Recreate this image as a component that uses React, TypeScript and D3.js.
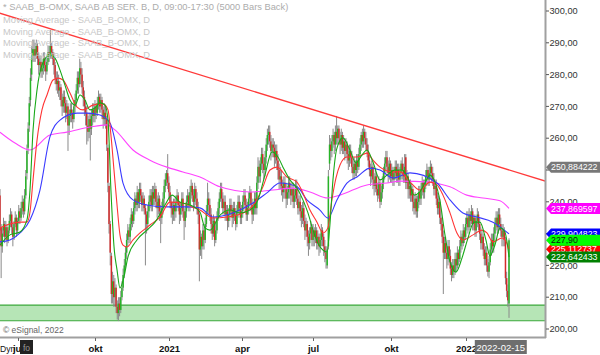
import * as d3 from "d3";
import { useRef, useEffect } from "react";

const firstDay = "2020-06-08";
const holidays = ["2020-06-19", "2020-12-24", "2020-12-25", "2020-12-31", "2021-01-01", "2021-01-06", "2021-04-02", "2021-04-05", "2021-05-13", "2021-06-25", "2021-12-24", "2021-12-31", "2022-01-06"];
const monthNames = ["jan", "feb", "mar", "apr", "maj", "jun", "jul", "aug", "sep", "okt", "nov", "dec"];
const cursorDate = "2022-02-15";

const opens = [
  252, 242, 232, 226, 231, 233, 229, 232, 228, 231, 234, 236, 232, 229, 233, 235, 231, 234, 237, 235,
  238, 240, 237, 242, 249, 257, 264, 272, 280, 286, 286, 288, 286, 289, 285, 283, 284, 281, 282, 285,
  283, 281, 284, 287, 286, 289, 287, 285, 283, 279, 277, 278, 275, 276, 272, 270, 273, 271, 268, 270,
  264, 267, 269, 268, 266, 270, 272, 275, 279, 277, 282, 280, 276, 273, 270, 268, 264, 262, 266, 263,
  267, 269, 267, 270, 268, 271, 273, 270, 272, 269, 266, 268, 266, 257, 245, 233, 223, 211, 215, 210,
  213, 207, 205, 208, 206, 210, 213, 217, 220, 224, 228, 231, 229, 233, 236, 234, 238, 241, 239, 243,
  240, 244, 242, 239, 241, 238, 236, 233, 237, 240, 242, 239, 243, 241, 244, 240, 238, 241, 237, 235,
  238, 241, 245, 247, 249, 246, 243, 240, 238, 236, 239, 237, 240, 242, 239, 236, 238, 241, 237, 234,
  237, 240, 242, 239, 243, 245, 242, 240, 244, 241, 238, 236, 225, 229, 226, 231, 228, 233, 237, 241,
  239, 236, 233, 230, 234, 228, 231, 235, 238, 241, 244, 241, 238, 240, 236, 237, 234, 236, 239, 237,
  235, 238, 236, 233, 237, 240, 238, 235, 237, 240, 242, 239, 236, 238, 241, 243, 239, 236, 238, 241,
  238, 246, 251, 248, 252, 255, 252, 250, 254, 258, 261, 262, 259, 256, 258, 257, 254, 256, 253, 250,
  247, 248, 245, 243, 246, 244, 241, 243, 246, 244, 242, 244, 240, 242, 245, 241, 238, 240, 237, 235,
  238, 234, 231, 233, 229, 227, 230, 232, 228, 231, 229, 231, 227, 229, 226, 228, 231, 229, 226, 224,
  220, 226, 252, 258, 256, 259, 261, 258, 262, 260, 263, 260, 258, 261, 257, 259, 256, 258, 255, 253,
  256, 254, 251, 249, 252, 250, 253, 251, 255, 258, 261, 259, 262, 260, 258, 256, 253, 250, 248, 251,
  247, 245, 248, 244, 242, 246, 240, 243, 246, 249, 252, 254, 251, 249, 252, 248, 250, 247, 249, 251,
  248, 250, 247, 249, 252, 250, 248, 254, 246, 248, 244, 245, 242, 244, 240, 238, 241, 237, 240, 243,
  241, 244, 246, 243, 245, 248, 250, 247, 249, 251, 249, 247, 244, 245, 241, 238, 240, 235, 233, 229,
  224, 227, 224, 222, 226, 223, 219, 217, 220, 218, 222, 220, 224, 222, 226, 229, 227, 231, 229, 233,
  235, 232, 236, 234, 237, 233, 235, 231, 234, 236, 233, 230, 227, 229, 225, 222, 224, 220, 218, 221,
  225, 228, 226, 230, 233, 235, 232, 236, 233, 231, 229, 231, 228, 216, 212, 208,
];
const highs = [
  256, 244, 233, 232, 235, 234, 234, 233, 232, 236, 238, 237, 233, 234, 237, 236, 235, 239, 238, 240,
  242, 241, 244, 250, 258, 265, 273, 282, 289, 291, 291, 290, 291, 290, 287, 286, 286, 284, 287, 287,
  285, 286, 289, 289, 294, 290, 288, 287, 284, 281, 281, 280, 278, 277, 274, 275, 275, 273, 272, 271,
  269, 271, 271, 269, 272, 274, 277, 281, 281, 285, 284, 282, 278, 275, 272, 270, 267, 268, 268, 269,
  271, 271, 272, 271, 273, 275, 274, 274, 273, 270, 271, 270, 267, 258, 246, 234, 224, 218, 217, 216,
  214, 209, 210, 210, 212, 215, 219, 222, 226, 230, 233, 232, 235, 238, 237, 240, 243, 242, 245, 244,
  246, 246, 243, 243, 242, 239, 237, 239, 242, 244, 244, 245, 245, 246, 245, 242, 243, 242, 239, 240,
  243, 247, 249, 250, 255, 248, 245, 242, 240, 241, 241, 242, 244, 243, 240, 240, 243, 243, 238, 239,
  242, 244, 243, 245, 247, 246, 244, 246, 245, 243, 240, 237, 231, 230, 233, 232, 235, 239, 246, 243,
  241, 238, 235, 236, 235, 233, 237, 240, 243, 246, 246, 243, 242, 242, 239, 239, 238, 241, 241, 239,
  240, 240, 238, 239, 242, 242, 240, 239, 242, 244, 244, 241, 240, 243, 245, 244, 241, 240, 243, 243,
  248, 254, 253, 254, 257, 257, 254, 256, 260, 263, 264, 264, 261, 260, 260, 259, 258, 258, 255, 252,
  251, 250, 247, 248, 248, 246, 245, 248, 248, 246, 246, 246, 244, 247, 247, 243, 242, 242, 239, 240,
  240, 236, 235, 234, 231, 232, 234, 233, 233, 232, 233, 232, 231, 230, 230, 233, 232, 230, 228, 226,
  226, 250, 261, 260, 261, 263, 262, 264, 267, 264, 264, 262, 263, 262, 261, 260, 260, 259, 257, 258,
  258, 256, 253, 254, 253, 255, 255, 257, 260, 262, 263, 264, 263, 262, 260, 258, 255, 252, 253, 252,
  249, 250, 249, 246, 248, 247, 245, 248, 251, 254, 256, 256, 253, 254, 253, 252, 251, 251, 253, 253,
  252, 252, 251, 253, 254, 252, 255, 255, 250, 249, 247, 247, 246, 245, 242, 243, 242, 242, 245, 245,
  246, 248, 247, 247, 250, 252, 251, 251, 253, 252, 251, 249, 247, 247, 243, 242, 241, 237, 235, 231,
  229, 229, 226, 228, 228, 225, 221, 222, 222, 224, 224, 226, 225, 228, 231, 230, 233, 232, 235, 237,
  237, 238, 237, 239, 238, 236, 236, 235, 238, 237, 235, 232, 231, 230, 227, 226, 226, 222, 223, 227,
  230, 230, 232, 235, 237, 237, 238, 238, 235, 233, 233, 232, 229, 218, 214, 228.5,
];
const lows = [
  240, 229, 216, 224, 229, 227, 228, 226, 227, 230, 232, 230, 226, 228, 232, 229, 230, 233, 233, 234,
  236, 235, 236, 241, 247, 255, 262, 270, 278, 284, 284, 284, 285, 283, 280, 281, 279, 279, 280, 281,
  278, 280, 283, 284, 285, 285, 283, 280, 277, 275, 274, 273, 272, 270, 267, 268, 268, 265, 266, 256,
  261, 265, 265, 263, 265, 268, 270, 274, 274, 276, 277, 274, 270, 267, 264, 258, 259, 260, 253, 261,
  264, 265, 265, 266, 267, 269, 268, 268, 266, 263, 264, 263, 256, 243, 230, 220, 208, 208, 207, 207,
  205, 203, 202.5, 204, 205, 209, 212, 216, 219, 222, 226, 227, 227, 231, 232, 233, 236, 237, 237, 238,
  238, 240, 237, 237, 236, 220, 230, 231, 235, 238, 237, 237, 239, 239, 238, 235, 236, 234, 227, 233,
  236, 239, 243, 245, 244, 241, 238, 235, 233, 234, 234, 235, 238, 237, 233, 234, 236, 235, 228, 232,
  235, 238, 237, 237, 241, 240, 237, 238, 239, 236, 233, 215, 223, 222, 225, 225, 227, 232, 236, 236,
  234, 230, 228, 229, 226, 227, 230, 234, 236, 240, 238, 236, 236, 234, 234, 231, 232, 234, 235, 232,
  233, 234, 231, 232, 235, 236, 233, 233, 235, 238, 237, 234, 234, 236, 239, 237, 233, 234, 236, 236,
  236, 244, 246, 246, 250, 249, 247, 248, 252, 256, 258, 257, 253, 254, 254, 251, 252, 250, 247, 244,
  244, 242, 240, 241, 241, 238, 239, 241, 241, 239, 240, 238, 238, 240, 239, 236, 236, 234, 232, 233,
  232, 228, 229, 226, 223, 225, 228, 226, 226, 226, 227, 225, 225, 223, 224, 226, 226, 223, 221, 219,
  219, 225, 250, 253, 254, 257, 255, 256, 258, 258, 258, 255, 256, 255, 255, 253, 254, 252, 250, 251,
  252, 249, 247, 247, 248, 248, 249, 250, 254, 256, 257, 257, 258, 256, 254, 251, 248, 245, 246, 244,
  242, 243, 242, 240, 241, 238, 239, 241, 244, 247, 250, 249, 246, 247, 246, 246, 245, 245, 247, 246,
  246, 245, 245, 247, 247, 246, 246, 244, 244, 241, 241, 240, 240, 237, 236, 236, 235, 235, 238, 239,
  239, 242, 241, 241, 244, 246, 245, 245, 247, 246, 245, 242, 242, 239, 236, 236, 233, 231, 227, 211,
  222, 222, 219, 220, 221, 217, 215, 216, 216, 217, 218, 219, 220, 221, 224, 225, 226, 227, 228, 231,
  230, 231, 232, 233, 231, 231, 229, 229, 232, 231, 228, 225, 225, 223, 220, 220, 218, 216.5, 216, 220,
  223, 224, 224, 228, 231, 230, 230, 231, 229, 226, 226, 226, 214, 210, 207, 203.5,
];
const closes = [
  243, 231, 226, 230, 233, 229, 232, 228, 231, 234, 236, 232, 229, 233, 235, 231, 234, 237, 235, 238,
  240, 237, 242, 248, 256, 263, 271, 279, 286, 288, 288, 286, 289, 285, 283, 284, 281, 282, 285, 283,
  281, 284, 287, 286, 289, 287, 285, 283, 279, 277, 278, 275, 276, 272, 270, 273, 271, 268, 270, 264,
  267, 269, 268, 266, 270, 272, 275, 279, 277, 282, 280, 276, 273, 270, 268, 264, 262, 266, 263, 267,
  269, 267, 270, 268, 271, 273, 270, 272, 269, 266, 268, 266, 258, 246, 233, 224, 211, 215, 210, 213,
  207, 205, 208, 206, 210, 213, 217, 220, 224, 228, 231, 229, 233, 236, 234, 238, 241, 239, 243, 240,
  244, 242, 239, 241, 238, 236, 233, 237, 240, 242, 239, 243, 241, 244, 240, 238, 241, 237, 235, 238,
  241, 245, 247, 249, 246, 243, 240, 238, 236, 239, 237, 240, 242, 239, 236, 238, 241, 237, 234, 237,
  240, 242, 239, 243, 245, 242, 240, 244, 241, 238, 236, 225, 229, 226, 231, 228, 233, 237, 241, 239,
  236, 233, 230, 234, 228, 231, 235, 238, 241, 244, 241, 238, 240, 236, 237, 234, 236, 239, 237, 235,
  238, 236, 233, 237, 240, 238, 235, 237, 240, 242, 239, 236, 238, 241, 243, 239, 236, 238, 241, 238,
  246, 251, 248, 252, 255, 252, 250, 254, 258, 261, 262, 259, 256, 258, 257, 254, 256, 253, 250, 247,
  248, 245, 243, 246, 244, 241, 243, 246, 244, 242, 244, 240, 242, 245, 241, 238, 240, 237, 235, 238,
  234, 231, 233, 229, 227, 230, 232, 228, 231, 229, 231, 227, 229, 226, 228, 231, 229, 226, 224, 222,
  225, 248, 258, 256, 259, 261, 258, 262, 260, 263, 260, 258, 261, 257, 259, 256, 258, 255, 253, 256,
  254, 251, 249, 252, 250, 253, 251, 255, 258, 261, 259, 262, 260, 258, 256, 253, 250, 248, 251, 247,
  245, 248, 244, 242, 246, 240, 243, 246, 249, 252, 254, 251, 249, 252, 248, 250, 247, 249, 251, 248,
  250, 247, 249, 252, 250, 248, 251, 246, 248, 244, 245, 242, 244, 240, 238, 241, 237, 240, 243, 241,
  244, 246, 243, 245, 248, 250, 247, 249, 251, 249, 247, 244, 245, 241, 238, 240, 235, 233, 229, 224,
  227, 224, 222, 226, 223, 219, 217, 220, 218, 222, 220, 224, 222, 226, 229, 227, 231, 229, 233, 235,
  232, 236, 234, 237, 233, 235, 231, 234, 236, 233, 230, 227, 229, 225, 222, 224, 220, 218, 221, 225,
  228, 226, 230, 233, 235, 232, 236, 233, 231, 229, 231, 228, 216, 212, 209, 227.9,
];

// moving averages as [bar, price]
const maFast = [[1, 226.4], [9.5, 229.6], [18, 230.5], [24, 234.3], [26.6, 243.7], [29.2, 262.6], [32.6, 275.2], [36.8, 283], [43.6, 286.2], [47.9, 285.2], [52.2, 281.4], [56.4, 276.7], [60.7, 272], [65, 270.4], [69.2, 273.6], [73.5, 272], [77.7, 268.9], [82, 269.5], [86.3, 271.1], [90.5, 270.4], [93.1, 265.7], [95.6, 243.7], [98.2, 226], [100.8, 218.6], [103.3, 212.9], [106.7, 216.4], [110.1, 222.6], [117.8, 228], [126.3, 231.1], [133.2, 233.6], [141.7, 239], [147.7, 242.1], [154.5, 239.9], [163, 239], [171.5, 236.8], [175.8, 231.8], [180, 231.1], [188.6, 235.8], [197.1, 237.4], [205.6, 236.5], [214.1, 237.4], [221, 240.6], [226.9, 248.4], [232.9, 255.7], [238, 254.1], [242.3, 250.9], [248.2, 246.9], [254.2, 244.3], [259.3, 240.6], [263.6, 236.5], [267.9, 231.1], [272.1, 227], [276.4, 224.8], [279.8, 224.2], [282.3, 232.7], [284.9, 246.9], [288.3, 256.9], [293.4, 260.1], [299.4, 256.3], [304.5, 252.2], [309.6, 254.7], [313.9, 256.3], [319, 252.5], [325, 246.9], [331, 248.4], [337.8, 250], [343.7, 250], [348.9, 247.5], [354, 242.1], [359, 243.1], [363.3, 245.9], [367.6, 248.4], [371.9, 246.2], [376, 240.6], [380.4, 229.6], [384.7, 221.1], [389.8, 217.9], [394.9, 222.3], [400, 228.6], [405.1, 233.6], [410.2, 233.6], [415.3, 228], [418.7, 223], [423, 226.4], [427.3, 231.8], [431.5, 230.5], [435, 222.6]];
const maMid = [[1, 231.8], [9.5, 233], [18.1, 233.6], [24, 233.6], [26.6, 236.8], [29.2, 246.9], [32.6, 259.4], [36.8, 268.9], [41.1, 273.6], [46.2, 278.3], [50.5, 278.9], [54.7, 278.3], [60.7, 274.2], [66.7, 269.8], [71.8, 268.9], [80.3, 270.4], [88.8, 270.8], [93.1, 268.9], [95.6, 261], [98.2, 250], [100.8, 239], [103.3, 229.6], [105.9, 226.4], [109.3, 225.8], [114.4, 228], [120.4, 230.2], [128.9, 232.7], [137.4, 235.2], [145.9, 239.9], [157, 239.6], [164.7, 238.4], [171.5, 237.4], [182.6, 234.9], [194.5, 235.2], [208.2, 236.5], [218.4, 239.6], [225.2, 244.7], [231.2, 250], [237.2, 250.9], [245.7, 247.8], [254.2, 246.2], [259.3, 242.8], [265.3, 237.4], [271.3, 233.6], [276.4, 230.2], [280.6, 231.8], [284, 240.6], [287.5, 247.5], [290.9, 251.6], [296.8, 254.1], [305.4, 254.1], [313.9, 255.3], [319, 253.1], [325, 250.9], [336, 249.4], [342, 249.4], [350.6, 246.2], [359, 243.7], [367.6, 246.2], [373.6, 245.3], [378.7, 242.1], [384.7, 236.5], [390.6, 230.2], [395.7, 228], [404.3, 229.6], [411.9, 231.1], [416.2, 230.2], [421.3, 227.4], [429, 228.6], [433.2, 227], [435, 225.1]];
const maSlow = [[1, 227.4], [9.5, 228], [18.1, 230.2], [26.6, 234.3], [35.1, 243.7], [43.6, 260.4], [52.2, 265.7], [66.7, 267.9], [75.2, 267.9], [86.3, 267.3], [94.8, 264.8], [100.8, 256.3], [105.9, 245.9], [114.4, 240.6], [126.3, 239], [143.4, 238.4], [160.4, 238.4], [171.5, 238.1], [182.6, 235.2], [199.6, 236.5], [216.7, 239.6], [228.6, 242.8], [239.7, 245.9], [254.2, 244.7], [262.7, 240.6], [273.8, 237.4], [280.6, 234.9], [288.3, 240.6], [296.8, 245.9], [305.4, 247.8], [316.4, 250.6], [325, 250], [336, 247.5], [350.6, 249.1], [373.6, 245.9], [384.7, 240.6], [395.7, 236.5], [407.7, 235.2], [421.3, 233.6], [435, 229.9]];
const maLong = [[1, 261.9], [13.8, 258.5], [26.6, 256.3], [43.6, 261], [58.1, 261.9], [77.7, 263.5], [92.2, 264.2], [99, 262.6], [114.4, 256.3], [128.9, 253.1], [143.4, 250.9], [157, 249.4], [171.5, 247.8], [188.6, 244.7], [214.1, 243.1], [233.8, 243.7], [250.8, 244.3], [265.3, 243.1], [280.6, 241.2], [290.9, 242.1], [313.9, 245.3], [331, 245.9], [342, 246.5], [367.6, 246.2], [376, 245.6], [384.7, 244.7], [399, 242.1], [412.8, 241.2], [427.3, 240.3], [435, 237.9]];

const trendLine = [[0, 299.4], [466, 246.5]];
const supportZone = [202.6, 207.5];

const labelValues = [250.884222, 237.869597, 229.904823, 225.112737, 222.642433, 227.9];
const labelTexts = ["250,884222", "237,869597", "229,904823", "225,112737", "222,642433", "227,90"];

const FONT = "'Liberation Sans', Arial, sans-serif";

function App() {
  const svgRef = useRef(null);

  useEffect(() => {
    const WIDTH = 600;
    const HEIGHT = 355;
    const PLOT_RIGHT = 545;
    const PLOT_BOTTOM = 337;

    const svg = d3.select(svgRef.current)
      .attr("width", WIDTH)
      .attr("height", HEIGHT)
      .style("font-family", FONT)
      .style("display", "block");
    svg.selectAll("*").remove();

    svg.append("rect").attr("width", WIDTH).attr("height", HEIGHT).attr("fill", "#fff");

    const fmtDay = d3.timeFormat("%Y-%m-%d");
    const days = d3.timeDay.range(d3.timeParse("%Y-%m-%d")(firstDay), new Date(2022, 5, 1))
      .filter(d => d.getDay() % 6 !== 0 && !holidays.includes(fmtDay(d)))
      .slice(0, closes.length);

    const x = d3.scaleLinear().domain([0, closes.length - 1]).range([-1.2, 509]);
    const y = d3.scaleLinear().domain([200, 300]).range([329, 11]);

    svg.append("defs").append("clipPath").attr("id", "plotClip")
      .append("rect").attr("x", 0).attr("y", 0).attr("width", PLOT_RIGHT).attr("height", PLOT_BOTTOM);

    const plot = svg.append("g").attr("clip-path", "url(#plotClip)");

    // support zone
    plot.append("rect")
      .attr("x", 0).attr("width", PLOT_RIGHT)
      .attr("y", y(supportZone[1])).attr("height", y(supportZone[0]) - y(supportZone[1]))
      .attr("fill", "#b6e5b6");
    supportZone.forEach(v => {
      plot.append("line").attr("x1", 0).attr("x2", PLOT_RIGHT).attr("y1", y(v)).attr("y2", y(v))
        .attr("stroke", "#3aa83a").attr("stroke-width", 1.2);
    });

    // candles
    const bars = plot.append("g").selectAll("g").data(closes).join("g");
    bars.append("line")
      .attr("x1", (d, i) => x(i)).attr("x2", (d, i) => x(i))
      .attr("y1", (d, i) => y(highs[i])).attr("y2", (d, i) => y(lows[i]))
      .attr("stroke", "#8a8a8a").attr("stroke-width", 1);
    bars.append("rect")
      .attr("x", (d, i) => x(i) - 0.75).attr("width", 1.5)
      .attr("y", (d, i) => y(Math.max(opens[i], d)))
      .attr("height", (d, i) => Math.max(1, Math.abs(y(opens[i]) - y(d))))
      .attr("fill", (d, i) => d >= opens[i] ? "#28b428" : "#d42a2a");

    // moving averages
    const maLine = d3.line().x(d => x(d[0])).y(d => y(d[1])).curve(d3.curveMonotoneX);
    const maSeries = [
      { data: maLong, color: "#ff44ff" },
      { data: maSlow, color: "#3a3aff" },
      { data: maMid, color: "#ff3434" },
      { data: maFast, color: "#18a818" },
    ];
    maSeries.forEach(s => {
      plot.append("path").attr("d", maLine(s.data)).attr("fill", "none")
        .attr("stroke", s.color).attr("stroke-width", 1.1);
    });

    // trend line
    plot.append("line")
      .attr("x1", x(trendLine[0][0])).attr("y1", y(trendLine[0][1]))
      .attr("x2", x(trendLine[1][0])).attr("y2", y(trendLine[1][1]))
      .attr("stroke", "#ff3a3a").attr("stroke-width", 1.3);

    // header
    svg.append("text").attr("x", 3).attr("y", 10).attr("font-size", 9.3).attr("fill", "#acacac")
      .text("* SAAB_B-OMX, SAAB AB SER. B, D, 09:00-17:30 (5000 Bars Back)");
    [0, 1, 2, 3].forEach(k => {
      svg.append("text").attr("x", 3).attr("y", 23 + k * 11.7).attr("font-size", 9.3).attr("fill", "#c8c8c8")
        .text("Moving Average - SAAB_B-OMX, D");
    });
    svg.append("text").attr("x", 3).attr("y", 333).attr("font-size", 8.5).attr("fill", "#666")
      .text("\u00a9 eSignal, 2022");

    // right axis (tick labels that sit under a value label stay hidden, as in the original)
    svg.append("line").attr("x1", PLOT_RIGHT + 0.5).attr("x2", PLOT_RIGHT + 0.5).attr("y1", 0).attr("y2", PLOT_BOTTOM + 1)
      .attr("stroke", "#a0a0a0").attr("stroke-width", 2);
    const yTicks = d3.range(200, 301, 10);
    const yAxis = svg.append("g").selectAll("g").data(yTicks).join("g")
      .attr("transform", d => `translate(${PLOT_RIGHT + 1},${y(d)})`);
    yAxis.append("line").attr("x1", 0).attr("x2", 3).attr("stroke", "#555");
    yAxis.filter(d => !labelValues.some(v => Math.abs(v - d) < 1.5))
      .append("text").attr("x", 3.5).attr("dy", "0.34em").attr("font-size", 9.2).attr("fill", "#333")
      .text(d => d3.format(".2f")(d).replace(".", ","));

    // bottom axis
    svg.append("line").attr("x1", 0).attr("x2", PLOT_RIGHT + 1).attr("y1", PLOT_BOTTOM + 0.5).attr("y2", PLOT_BOTTOM + 0.5)
      .attr("stroke", "#a0a0a0").attr("stroke-width", 2);
    const quarterTicks = days.map((d, i) => i)
      .filter(i => i > 0 && days[i].getMonth() !== days[i - 1].getMonth() && days[i].getMonth() % 3 === 0);
    const xAxis = svg.append("g").selectAll("g").data(quarterTicks).join("g")
      .attr("transform", i => `translate(${Math.round(x(i)) + 0.5},${PLOT_BOTTOM})`);
    xAxis.append("line").attr("y1", 1).attr("y2", 4).attr("stroke", "#666");
    xAxis.append("text").attr("y", 15).attr("text-anchor", "middle").attr("font-size", 9.5)
      .attr("font-weight", "bold").attr("fill", "#111")
      .text(i => days[i].getMonth() === 0 ? String(days[i].getFullYear()) : monthNames[days[i].getMonth()]);

    // cursor date box
    const cursorIdx = days.findIndex(d => fmtDay(d) === cursorDate);
    if (cursorIdx >= 0) {
      const cx = x(cursorIdx);
      svg.append("rect").attr("x", cx - 26).attr("y", 340).attr("width", 52).attr("height", 14).attr("fill", "#6e6e6e");
      svg.append("text").attr("x", cx).attr("y", 351).attr("text-anchor", "middle").attr("font-size", 9.5)
        .attr("fill", "#fff").text(cursorDate);
    }

    svg.append("text").attr("x", 0).attr("y", 352).attr("font-size", 8.6).attr("fill", "#111").text("Dyn");
    svg.append("rect").attr("x", 20).attr("y", 340).attr("width", 13).attr("height", 14).attr("fill", "#222");
    svg.append("text").attr("x", 23).attr("y", 351).attr("font-size", 8.5).attr("fill", "#999").text("f\u03bf");

    // value labels on the right axis
    const labelFills = ["#787878", "#ff00ff", "#0000ff", "#ff0000", "#008000", "#00ff00"];
    const labelInk = ["#fff", "#fff", "#fff", "#fff", "#fff", "#111"];
    labelValues.forEach((v, k) => {
      const yv = y(v);
      const h = 5.5;
      svg.append("path")
        .attr("d", `M${PLOT_RIGHT + 1},${yv} L${PLOT_RIGHT + 6},${yv - h} L${WIDTH},${yv - h} L${WIDTH},${yv + h} L${PLOT_RIGHT + 6},${yv + h} Z`)
        .attr("fill", labelFills[k]);
      svg.append("text").attr("x", PLOT_RIGHT + 6).attr("y", yv).attr("dy", "0.35em")
        .attr("font-size", 8.8).attr("fill", labelInk[k]).text(labelTexts[k]);
    });
  }, []);

  return (
    <div style={{ position: "absolute", left: 0, top: 0 }}>
      <svg ref={svgRef} />
    </div>
  );
}

export default App;
